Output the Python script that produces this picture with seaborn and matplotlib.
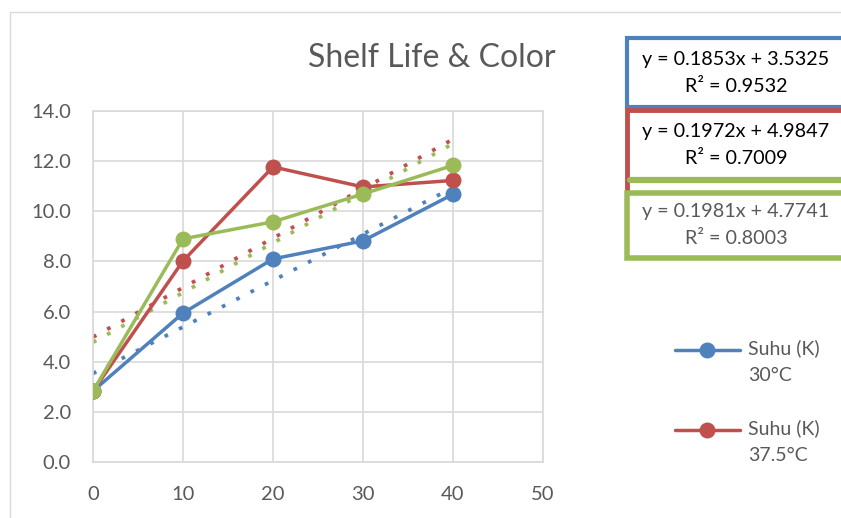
import numpy as np
import pandas as pd
import seaborn as sns
import matplotlib.pyplot as plt
from matplotlib.patches import Rectangle
from matplotlib.legend_handler import HandlerLine2D

# days of storage vs colour score
days = [0, 10, 20, 30, 40]
suhu_30 = [2.83, 5.94, 8.10, 8.82, 10.68]
suhu_375 = [2.83, 8.02, 11.77, 10.97, 11.23]
suhu_45 = [2.83, 8.90, 9.58, 10.69, 11.83]

# excel trendline coefficients (slope, intercept, r2)
fit_30 = (0.1853, 3.5325, 0.9532)
fit_375 = (0.1972, 4.9847, 0.7009)
fit_45 = (0.1981, 4.7741, 0.8003)

labels = ["Suhu (K)\n30°C", "Suhu (K)\n37.5°C", "Suhu (K)\n45°C"]
colors = ["#4F81BD", "#C0504D", "#9BBB59"]

sns.set_style("white")
plt.rcParams["font.family"] = ["Lato", "DejaVu Sans"]
gray = "#595959"

fig = plt.figure(figsize=(8.41, 5.18), dpi=100)
W, H = 841, 518
ax = fig.add_axes([93 / W, 1 - 462 / H, 450 / W, 351 / H])

df = pd.DataFrame({"day": days * 3,
                   "value": suhu_30 + suhu_375 + suhu_45,
                   "series": [labels[0]] * 5 + [labels[1]] * 5 + [labels[2]] * 5})

# trendlines
trend_x = np.array([0, 40])
for (m, b, r2), c in zip([fit_30, fit_375, fit_45], colors):
    ax.plot(trend_x, m * trend_x + b, color=c, lw=2.7,
            linestyle=(0, (1, 3.3)), dash_capstyle="butt", zorder=2)

sns.lineplot(data=df, x="day", y="value", hue="series", palette=colors,
             marker="o", markersize=11.5, markeredgewidth=0, linewidth=2.5,
             ax=ax, legend=False, zorder=3)

ax.set_xlim(0, 50)
ax.set_ylim(0, 14)
ax.set_xticks(range(0, 51, 10))
ax.set_yticks(np.arange(0, 14.1, 2))
ax.set_yticklabels([f"{v:.1f}" for v in np.arange(0, 14.1, 2)])
ax.grid(True, color="#d9d9d9", lw=1.2)
for s in ax.spines.values():
    s.set_color("#d9d9d9")
    s.set_linewidth(1.2)
ax.tick_params(colors=gray, labelsize=14.5, length=0)
ax.tick_params(axis="y", pad=16)
ax.tick_params(axis="x", pad=17)
ax.set_xlabel("")
ax.set_ylabel("")

fig.text(431.5 / W, 1 - 58 / H, "Shelf Life & Color", ha="center", va="center",
         fontsize=23, color=gray)


# excel puts the legend marker level with the first text line
class FirstLineHandler(HandlerLine2D):
    def create_artists(self, legend, orig_handle, xdescent, ydescent,
                       width, height, fontsize, trans):
        arts = super().create_artists(legend, orig_handle, xdescent, ydescent,
                                      width, height, fontsize, trans)
        for a in arts:
            a.set_ydata(np.asarray(a.get_ydata()) + 8.5)
        return arts


handles = [plt.Line2D([], [], color=colors[i], marker="o", markersize=11.5,
                      markeredgewidth=0, lw=2.5) for i in range(2)]
leg = fig.legend(handles, labels[:2], loc="upper left",
                 bbox_to_anchor=(657 / W, 1 - 322 / H), frameon=False,
                 fontsize=14, labelcolor=gray, handlelength=3.35,
                 labelspacing=1.8, handletextpad=0.45,
                 handler_map={plt.Line2D: FirstLineHandler()})
for t in leg.get_texts():
    t.set_linespacing(1.72)

# equation boxes
def box(top, bot, c, lw):
    fig.patches.append(Rectangle((627 / W, 1 - bot / H), 400 / W, (bot - top) / H,
                                 transform=fig.transFigure, facecolor="white",
                                 edgecolor=c, lw=lw, zorder=5))

box(38, 107, colors[0], 3.0)
box(110, 194, colors[1], 3.5)
fig.add_artist(plt.Line2D([630 / W, 1.0], [1 - 180 / H] * 2, transform=fig.transFigure,
                          color=colors[2], lw=4.5, zorder=6))
box(193, 258, colors[2], 4.0)

eqs = [(74, fit_30, "#000000"), (146, fit_375, "#000000"), (225, fit_45, gray)]
for mid, (m, b, r2), tc in eqs:
    fig.text(736 / W, 1 - (mid - 14) / H, f"y = {m}x + {b}", ha="center", va="center",
             fontsize=14.2, color=tc, zorder=7)
    fig.text(736 / W, 1 - (mid + 13) / H, f"R² = {r2}", ha="center", va="center",
             fontsize=14.2, color=tc, zorder=7)

# outer chart border
fig.patches.append(Rectangle((10 / W, -0.1), 2, 1 - 12 / H + 0.1,
                             transform=fig.transFigure, fill=False,
                             edgecolor="#d9d9d9", lw=1.0))

fig.savefig("out.png", dpi=100)
